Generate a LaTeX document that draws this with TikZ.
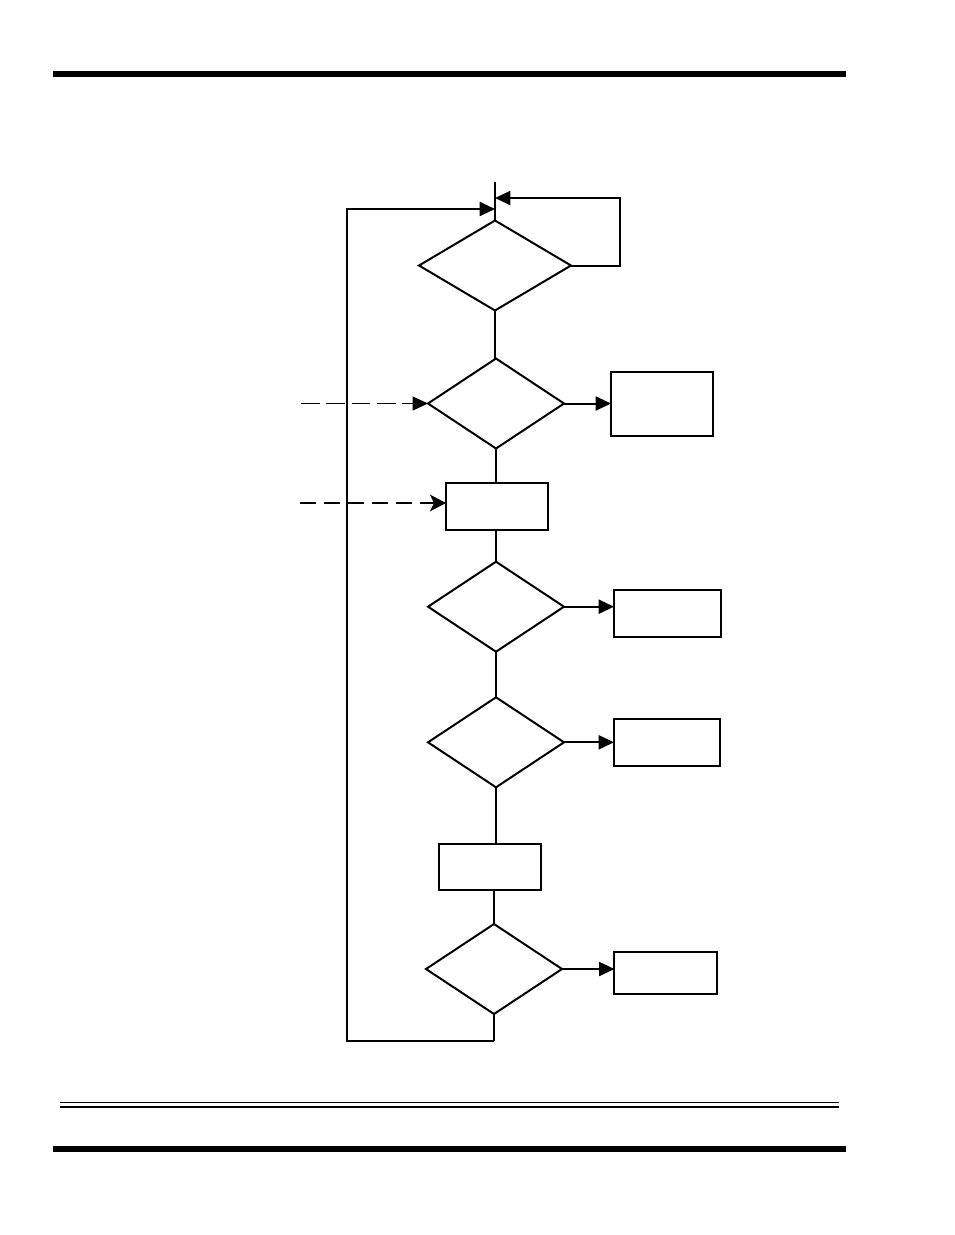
\documentclass[tikz,border=0pt]{standalone}
\usetikzlibrary{shapes.geometric,arrows.meta}

\begin{document}
\begin{tikzpicture}[x=0.75pt, y=-0.75pt,
  decision/.style={draw, diamond, line width=1.5pt, inner sep=0pt, outer sep=0pt,
    minimum width=102pt, minimum height=67.5pt},
  procbox/.style={draw, rectangle, line width=1.5pt, inner sep=0pt, outer sep=0pt},
  trunk/.style={line width=0.9pt},
  flow/.style={line width=1.5pt, -{Triangle[length=11.5pt, width=10.5pt]}},
  dashin/.style={line width=0.8pt, dash pattern=on 14pt off 5pt, -{Triangle[length=11.5pt, width=10.5pt]}},
  dashinb/.style={line width=1.6pt, dash pattern=on 12pt off 6pt, -{Stealth[length=12pt, width=12.5pt, inset=3pt]}}]
  \useasboundingbox (0,0) rectangle (954,1235);

  % Page rules
  \fill (53,71) rectangle (846,77);
  \draw[line width=0.75pt] (60,1102) -- (839,1102);
  \draw[line width=1.5pt] (60,1106.5) -- (839,1106.5);
  \fill (53,1146) rectangle (846,1152);

  % Decisions
  \node[decision, minimum width=114pt] (d1) at (495,265.5) {};
  \node[decision] (d2) at (496,403.5) {};
  \node[decision] (d3) at (496,606.7) {};
  \node[decision] (d4) at (496,742.3) {};
  \node[decision] (d5) at (494,969) {};

  % Boxes
  \node[procbox, minimum width=76.5pt, minimum height=48pt] (ba) at (662,404) {};
  \node[procbox, minimum width=76.5pt, minimum height=35.3pt] (bb) at (497,506.3) {};
  \node[procbox, minimum width=80pt, minimum height=35.3pt] (bc) at (667.3,613.5) {};
  \node[procbox, minimum width=79.5pt, minimum height=35.3pt] (bd) at (667,742.5) {};
  \node[procbox, minimum width=77pt, minimum height=34.5pt] (be) at (490,866.5) {};
  \node[procbox, minimum width=77pt, minimum height=31.5pt] (bf) at (665.8,973) {};

  % Helper points
  \coordinate (top) at (495,182);
  \coordinate (fb) at (495,198);
  \coordinate (lp) at (495,209);
  \coordinate (fr) at (620,198);
  \coordinate (bot) at (495,1041);
  \coordinate (lc) at (347,1041);
  \coordinate (in1) at (301,403.5);
  \coordinate (in2) at (300,503);

  % Main trunk
  \draw[trunk] (top) -- (d1.north);
  \draw[trunk] (d1.south) -- (d1.south |- d2.north);
  \draw[trunk] (d2.south) -- (d2.south |- bb.north);
  \draw[trunk] (bb.south -| d3.north) -- (d3.north);
  \draw[trunk] (d3.south) -- (d4.north);
  \draw[trunk] (d4.south) -- (d4.south |- be.north);
  \draw[trunk] (be.south -| d5.north) -- (d5.north);
  \draw[trunk] (d5.south) -- (d5.south |- bot);

  % Side exits
  \draw[flow] (d2.east) -- (d2.east -| ba.west);
  \draw[flow] (d3.east) -- (d3.east -| bc.west);
  \draw[flow] (d4.east) -- (d4.east -| bd.west);
  \draw[flow] (d5.east) -- (d5.east -| bf.west);

  % Wait loop on first decision
  \draw[flow] (d1.east) -| (fr) -- (fb);

  % Return loop
  \draw[flow] (d5.south |- bot) -- (lc) |- (lp);

  % External inputs
  \draw[dashin] (in1) -- (d2.west);
  \draw[dashinb] (in2) -- (in2 -| bb.west);
\end{tikzpicture}
\end{document}
